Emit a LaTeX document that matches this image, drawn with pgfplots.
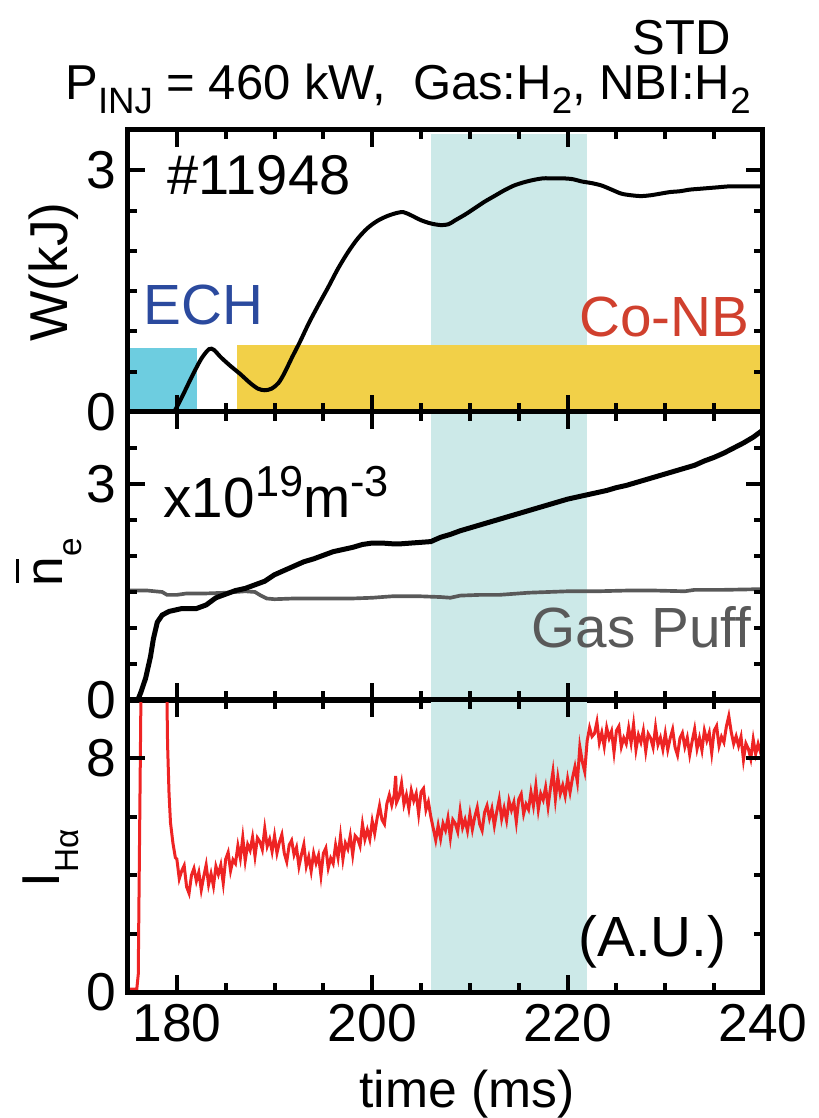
\documentclass[border=0pt]{standalone}
\usepackage{pgfplots}
\pgfplotsset{compat=1.18}
\usepackage{fontspec}
\setmainfont{Liberation Sans}
\definecolor{band}{HTML}{CCE9E8}
\definecolor{echc}{HTML}{6DCDE0}
\definecolor{nbc}{HTML}{F2D048}
\definecolor{echt}{HTML}{2B4A9E}
\definecolor{nbt}{HTML}{D0402E}
\definecolor{gasc}{HTML}{595959}
\definecolor{hac}{HTML}{EE2424}
\newcommand\sub[2][0.28em]{\raisebox{-#1}{\fontsize{11}{11}\selectfont #2}}
\pgfplotsset{
  panel/.style={
    scale only axis, width=190.5pt, xmin=175, xmax=240,
    axis on top,
    axis line style={line width=1.5pt},
    every tick/.style={line width=1.2pt, black},
    major tick length=5pt, minor tick length=2.6pt,
    xtick={180,200,220,240},
    minor xtick={185,190,195,205,210,215,225,230,235},
    tick align=inside, xtick pos=both, ytick pos=both,
    tick label style={font=\fontsize{16}{16}\selectfont},
    /pgf/number format/assume math mode=true,
    anchor=south west,
  }
}
\begin{document}
\begin{tikzpicture}
\useasboundingbox (-38.4pt,-37.8pt) rectangle (207.3pt,297.6pt);
% ---------- top panel ----------
\begin{axis}[panel, at={(0pt,174pt)}, height=84.6pt, ymin=0, ymax=3.5,
  ytick={0,3}, minor ytick={0.5,1,1.5,2,2.5}, xticklabels={}]
\addplot[fill=band, draw=none, forget plot] coordinates {(206,3.45) (222,3.45)} \closedcycle;
\addplot[fill=echc, draw=none, forget plot] coordinates {(175,0.8) (182.1,0.8)} \closedcycle;
\addplot[fill=nbc, draw=none, forget plot] coordinates {(186.2,0.83) (240,0.83)} \closedcycle;
\addplot[black, line width=1.2pt, smooth] coordinates {
(179.5,0) (179.8,0.02) (180.5,0.18) (181.5,0.43) (182.5,0.66) (183.3,0.78) (183.8,0.77)
(184.5,0.68) (185.5,0.57) (186.5,0.47) (187.5,0.36) (188.3,0.29) (189,0.27) (189.7,0.29)
(190.4,0.36) (191,0.48) (191.8,0.68) (192.6,0.87) (193.5,1.1) (194.5,1.33) (195.5,1.55)
(196.5,1.78) (197.5,1.98) (198.5,2.15) (199.5,2.28) (200.5,2.37) (201.5,2.43) (202.5,2.47)
(203.2,2.48) (204,2.44) (205,2.38) (206,2.34) (207,2.32) (207.8,2.33) (208.5,2.38)
(209.5,2.45) (210.5,2.53) (211.5,2.61) (212.5,2.68) (213.5,2.75) (214.5,2.81) (215.5,2.85)
(216.5,2.88) (217.5,2.9) (218.5,2.9) (219.5,2.9) (220.5,2.89) (221.5,2.86) (222.5,2.84)
(223.5,2.81) (224.5,2.76) (225.5,2.71) (226.5,2.69) (227.5,2.68) (228.5,2.69) (229.5,2.71)
(230.5,2.73) (231.5,2.74) (232.5,2.76) (233.5,2.77) (234.5,2.78) (235.5,2.79) (236.5,2.8)
(237.5,2.8) (238.5,2.8) (240,2.8)};
\end{axis}
% ---------- middle panel ----------
\begin{axis}[panel, at={(0pt,87.6pt)}, height=86.4pt, ymin=0, ymax=4,
  ytick={0,3}, minor ytick={0.5,1,1.5,2,2.5,3.5}, xticklabels={}]
\addplot[fill=band, draw=none, forget plot] coordinates {(206,4) (222,4)} \closedcycle;
\addplot[gasc, line width=1.1pt] coordinates {
(175.2,1.52) (177,1.52) (178.5,1.5) (179,1.46) (180,1.46) (181,1.48) (183,1.48) (185,1.49)
(187,1.51) (188,1.5) (188.6,1.45) (189.2,1.41) (190,1.4) (192,1.41) (195,1.41) (198,1.41)
(200,1.42) (202,1.44) (205,1.44) (207,1.43) (208,1.42) (209,1.45) (211,1.46) (213,1.46)
(214,1.47) (216,1.49) (218,1.5) (220,1.51) (223,1.51) (226,1.52) (229,1.52) (232,1.51)
(233,1.53) (236,1.53) (240,1.54)};
\addplot[black, line width=1.5pt] coordinates {
(176.0,0) (176.3,0.1) (176.8,0.3) (177.3,0.6) (177.6,0.85) (178.0,1.08) (178.5,1.18)
(179.2,1.23) (180.5,1.27) (182,1.27) (183,1.32) (184,1.42) (185,1.47) (186,1.52) (187,1.55)
(188,1.6) (189,1.65) (190,1.74) (191,1.8) (192,1.86) (193,1.92) (194,1.96) (195,2.01)
(196,2.06) (197,2.09) (198,2.12) (199,2.16) (200,2.18) (201,2.18) (202,2.17) (203,2.17)
(204,2.18) (205,2.19) (206,2.2) (207,2.26) (208,2.3) (209,2.35) (210,2.39) (211,2.43)
(212,2.47) (213,2.51) (214,2.55) (215,2.59) (216,2.63) (217,2.67) (218,2.71) (219,2.75)
(220,2.79) (221,2.82) (222,2.85) (223,2.88) (224,2.91) (225,2.95) (226,2.98) (227,3.02)
(228,3.06) (229,3.1) (230,3.14) (231,3.18) (232,3.22) (233,3.26) (234,3.32) (235,3.37)
(236,3.43) (237,3.5) (238,3.57) (239,3.65) (240,3.75)};
\end{axis}
% ---------- bottom panel ----------
\begin{axis}[panel, at={(0pt,0pt)}, height=87.6pt, ymin=0, ymax=10,
  ytick={0,8}, minor ytick={2,4,6}]
\addplot[fill=band, draw=none, forget plot] coordinates {(206,10) (222,10)} \closedcycle;
\addplot[hac, line width=0.9pt] coordinates {
(175.2,0.1) (175.9,0.1) (176.05,0.6) (176.35,11) (178.95,11) (179.05,8.5) (179.2,6.8)
(179.35,5.8) (179.6,5.1) (179.85,4.6)
(180,4.55) (180.25,3.88) (180.5,4.15) (180.75,4.33) (181,3.6) (181.25,3.38) (181.5,4.0)
(181.75,4.23) (182,3.8) (182.25,4.1) (182.5,3.5) (182.75,3.95) (183,4.35) (183.25,3.68)
(183.5,4.05) (183.75,3.63) (184,4.3) (184.25,4.03) (184.5,4.35) (184.75,3.73) (185,4.55)
(185.25,4.78) (185.5,4.15) (185.75,4.53) (186,4.4) (186.25,5.01) (186.5,4.58) (186.75,5.29)
(187,4.5) (187.25,5.05) (187.5,4.85) (187.75,5.3) (188,4.65) (188.25,5.28) (188.5,5.15)
(188.75,4.88) (189,5.6) (189.25,4.99) (189.5,5.23) (189.75,4.81) (190,5.35) (190.25,4.76)
(190.5,5.13) (190.75,5.39) (191,4.75) (191.25,4.46) (191.5,5.03) (191.75,5.19) (192,4.7)
(192.25,4.95) (192.5,4.3) (192.75,4.7) (193,5.05) (193.25,4.31) (193.5,4.63) (193.75,4.14)
(194,4.75) (194.25,4.41) (194.5,4.68) (194.75,3.99) (195,4.75) (195.25,4.93) (195.5,4.25)
(195.75,4.58) (196,4.4) (196.25,5.03) (196.5,4.6) (196.75,5.33) (197,4.55) (197.25,5.1)
(197.5,4.9) (197.75,5.35) (198,4.7) (198.25,5.35) (198.5,5.25) (198.75,5.0) (199,5.75)
(199.25,5.23) (199.5,5.55) (199.75,5.23) (200,5.85) (200.25,5.43) (200.5,5.95) (200.75,6.38)
(201,5.9) (201.25,5.75) (201.5,6.45) (201.75,6.75) (202,6.4) (202.25,6.75) (202.4,7.4)
(202.5,6.5) (202.75,6.7) (203,7.15) (203.25,6.43) (203.5,6.75) (203.75,6.28) (204,6.9)
(204.25,6.55) (204.5,6.8) (204.75,6.1) (205,6.85) (205.25,6.97) (205.5,6.24) (205.75,6.51)
(206,6.0) (206.25,5.6) (206.5,5.2) (206.75,5.7) (207,5.25) (207.25,5.77) (207.5,5.54)
(207.75,5.96) (208,5.28) (208.25,5.9) (208.5,5.77) (208.75,5.49) (209,6.21) (209.25,5.63)
(209.5,5.9) (209.75,5.52) (210,6.09) (210.25,5.57) (210.5,6.0) (210.75,6.32) (211,5.75)
(211.25,5.53) (211.5,6.15) (211.75,6.38) (212,5.95) (212.25,6.28) (212.5,5.7) (212.75,6.18)
(213,6.6) (213.25,5.93) (213.5,6.3) (213.75,5.88) (214,6.55) (214.25,6.23) (214.5,6.5)
(214.75,5.83) (215,6.6) (215.25,6.78) (215.5,6.1) (215.75,6.43) (216,6.25) (216.25,6.84)
(216.5,6.38) (216.75,7.06) (217,6.25) (217.25,6.79) (217.5,6.58) (217.75,7.01) (218,6.35)
(218.25,6.99) (218.5,7.55) (218.75,6.61) (219,7.35) (219.25,6.79) (219.5,7.08) (219.75,6.71)
(220,7.3) (220.25,6.84) (220.5,7.33) (220.75,7.71) (221,7.2) (221.25,8.4) (221.5,7.9)
(221.75,7.55) (222,8.6) (222.25,9.05) (222.5,8.75) (222.75,8.85) (223,9.25) (223.25,8.54)
(223.5,8.88) (223.75,8.41) (224,9.05) (224.25,8.69) (224.5,8.93) (224.75,8.21) (225,8.95)
(225.25,9.1) (225.5,8.4) (225.75,8.7) (226,8.5) (226.25,9.04) (226.5,8.53) (226.75,9.16)
(227,8.3) (227.25,8.8) (227.5,8.55) (227.75,8.95) (228,8.25) (228.25,8.84) (228.5,8.69)
(228.75,8.38) (229,9.07) (229.25,8.47) (229.5,8.71) (229.75,8.31) (230,8.85) (230.25,8.3)
(230.5,8.69) (230.75,8.99) (231,8.38) (231.25,8.11) (231.5,8.69) (231.75,8.87) (232,8.4)
(232.25,8.71) (232.5,8.13) (232.75,8.59) (233,9.0) (233.25,8.33) (233.5,8.7) (233.75,8.28)
(234,8.95) (234.25,8.61) (234.5,8.88) (234.75,8.19) (235,8.95) (235.25,9.11) (235.5,8.43)
(235.75,8.74) (236,8.55) (236.25,9.09) (236.5,9.45) (236.75,8.9) (237,8.5) (237.25,8.76)
(237.5,8.43) (237.75,8.74) (238,7.95) (238.25,8.51) (238.5,8.33) (238.75,7.99) (239,8.65)
(239.25,8.15) (239.5,8.5) (239.75,8.2) (240,8.7)};
\end{axis}
% ---------- texts ----------
\node[anchor=base, inner sep=0, font=\fontsize{14.7}{16}\selectfont] at (84pt,267.6pt)
  {P\sub{INJ} = 460 kW,\ \ Gas:H\sub{2}, NBI:H\sub{2}};
\node[anchor=base east, inner sep=0, font=\fontsize{14.7}{16}\selectfont] at (181pt,281.1pt) {STD};
\node[anchor=base west, inner sep=0, font=\fontsize{16.8}{18}\selectfont] at (11.7pt,239.1pt) {\#11948};
\node[anchor=base west, inner sep=0, font=\fontsize{17}{18}\selectfont, text=echt] at (4.5pt,200.1pt) {ECH};
\node[anchor=base east, inner sep=0, font=\fontsize{17}{18}\selectfont, text=nbt] at (186.6pt,196.5pt) {Co-NB};
\node[anchor=base west, inner sep=0, font=\fontsize{17}{18}\selectfont] at (10.5pt,142.5pt)
  {x10\raisebox{6.3pt}{\fontsize{13}{13}\selectfont 19}m\raisebox{6.3pt}{\fontsize{13}{13}\selectfont -3}};
\node[anchor=base east, inner sep=0, font=\fontsize{17}{18}\selectfont, text=gasc] at (187.2pt,103.2pt) {Gas Puff};
\node[anchor=base east, inner sep=0, font=\fontsize{17}{18}\selectfont] at (179.7pt,10.5pt) {(A.U.)};
\node[anchor=base, inner sep=0, font=\fontsize{15.5}{17}\selectfont] at (101.7pt,-34.8pt) {time (ms)};
\node[rotate=90, anchor=base, inner sep=0, font=\fontsize{16}{18}\selectfont] at (-18pt,216pt) {W(kJ)};
\node[rotate=90, anchor=base, inner sep=0, font=\fontsize{16}{18}\selectfont] at (-19.5pt,129pt)
  {\rlap{\hspace{0.06em}\rule[0.82em]{0.44em}{0.07em}}n\raisebox{-5.5pt}{\fontsize{10}{10}\selectfont e}};
\node[rotate=90, anchor=base, inner sep=0, font=\fontsize{16}{18}\selectfont] at (-20.4pt,40pt)
  {I\raisebox{-5.5pt}{\fontsize{10}{10}\selectfont Hα}};
\end{tikzpicture}
\end{document}
